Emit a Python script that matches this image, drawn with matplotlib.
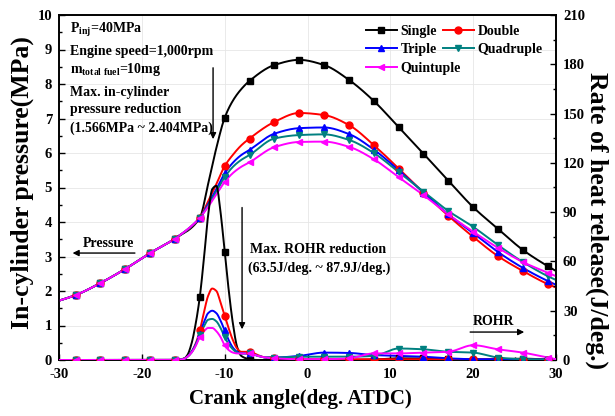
import numpy as np
import matplotlib
matplotlib.use("Agg")
import matplotlib.pyplot as plt
from matplotlib.lines import Line2D
from matplotlib.ticker import MultipleLocator

plt.rcParams['font.family'] = ['Liberation Serif', 'DejaVu Serif']
plt.rcParams['font.weight'] = 'bold'
plt.rcParams['mathtext.fontset'] = 'custom'
plt.rcParams['mathtext.rm'] = 'Liberation Serif:bold'
plt.rcParams['mathtext.it'] = 'Liberation Serif:italic:bold'
plt.rcParams['mathtext.bf'] = 'Liberation Serif:bold'
plt.rcParams['axes.unicode_minus'] = False

# ---------------- data ----------------
series_names = ["Single", "Double", "Triple", "Quadruple", "Quintuple"]
colors = ["#000000", "#FF0000", "#0000FF", "#008080", "#FF00FF"]
markers = ["s", "o", "^", "v", "<"]
marker_x = [-28, -25, -22, -19, -16, -13, -10, -7, -4, -1, 2, 5, 8, 11, 14, 17, 20, 23, 26, 29]

# in-cylinder pressure (MPa)
p_x = [-30, -28, -25, -22, -19, -16, -13, -12, -11, -10, -9, -8, -7, -4, -1, 2, 5, 8, 11, 14, 17, 20, 23, 26, 29, 30]
p_single = [1.72, 1.88, 2.23, 2.64, 3.10, 3.52, 4.12, 5.10, 6.15, 7.02, 7.52, 7.85, 8.09, 8.55, 8.70, 8.55, 8.12, 7.51, 6.75, 5.98, 5.20, 4.43, 3.80, 3.19, 2.72, 2.58]
p_double = [1.72, 1.88, 2.23, 2.64, 3.10, 3.52, 4.12, 4.60, 5.10, 5.62, 5.95, 6.22, 6.42, 6.90, 7.16, 7.10, 6.81, 6.23, 5.55, 4.85, 4.18, 3.57, 3.01, 2.58, 2.20, 2.10]
p_triple = [1.72, 1.88, 2.23, 2.64, 3.10, 3.52, 4.12, 4.52, 4.95, 5.41, 5.72, 5.94, 6.09, 6.56, 6.72, 6.74, 6.55, 6.10, 5.50, 4.85, 4.22, 3.68, 3.13, 2.67, 2.29, 2.18]
p_quad = [1.72, 1.88, 2.23, 2.64, 3.10, 3.52, 4.12, 4.48, 4.88, 5.30, 5.60, 5.80, 5.94, 6.42, 6.52, 6.54, 6.38, 6.00, 5.45, 4.88, 4.32, 3.86, 3.33, 2.84, 2.43, 2.32]
p_quint = [1.72, 1.88, 2.23, 2.64, 3.10, 3.52, 4.12, 4.44, 4.80, 5.16, 5.42, 5.60, 5.73, 6.17, 6.32, 6.33, 6.18, 5.82, 5.30, 4.78, 4.22, 3.72, 3.25, 2.84, 2.53, 2.43]

# rate of heat release (J/deg.)
r_x = [-30, -28, -25, -22, -19, -16, -15, -14.5, -14, -13.5, -13, -12.5, -12, -11.5, -11, -10.5, -10, -9.5, -9, -8.5, -8, -7, -6, -5, -4, -1, 2, 5, 8, 11, 14, 17, 20, 23, 26, 29, 30]
r_single = [0, 0, 0, 0, 0, 0, 0.5, 3, 10, 22, 38.5, 62, 88, 104, 106, 90, 66, 42, 22, 8, 2.5, 0.5, 0, 0, 0, 0, 0, 0, 0.3, 1, 1, 0.5, 0.3, 0.5, 0.8, 0.3, 0]
r_double = [0, 0, 0, 0, 0, 0, 0.5, 2, 5, 10, 18, 29, 39, 43.5, 42, 35, 27, 19, 12, 7, 5, 5, 3, 1.5, 1.5, 0.5, 0.5, 0.5, 0.5, 0.5, 0.5, 0.5, 0.5, 0.5, 0.3, 0.3, 0.3]
r_triple = [0, 0, 0, 0, 0, 0, 0.5, 2, 5, 9.5, 16, 23, 28.5, 30, 28.5, 24, 18, 12, 7.5, 5, 4, 4, 2.5, 1.5, 1.5, 2.5, 4.5, 4.3, 3, 2.5, 2, 1, 0.5, 0.5, 0.3, 0.3, 0.3]
r_quad = [0, 0, 0, 0, 0, 0, 0.5, 2, 4.5, 9, 15, 20.5, 24.5, 25, 23.5, 19.5, 14, 9.5, 6.5, 4.5, 4, 4, 2.5, 1.5, 1.5, 2, 2, 2, 2.5, 7, 6.5, 5, 4.5, 1.5, 0.5, 0.3, 0.3]
r_quint = [0, 0, 0, 0, 0, 0, 0.5, 2, 4.5, 8.5, 14, 17.5, 19.5, 19.5, 17.5, 14, 9, 6, 4.5, 4, 4, 4, 2.5, 1.5, 1, 0.5, 0.5, 1, 4, 4, 4.5, 5, 9, 6.5, 4.5, 1.5, 0.5]

pressures = [p_single, p_double, p_triple, p_quad, p_quint]
rohrs = [r_single, r_double, r_triple, r_quad, r_quint]


def pchip(x, y, xn):
    x = np.asarray(x, float); y = np.asarray(y, float)
    h = np.diff(x); d = np.diff(y) / h
    m = np.zeros_like(y)
    for k in range(1, len(x) - 1):
        if d[k - 1] * d[k] <= 0:
            m[k] = 0.0
        else:
            w1 = 2 * h[k] + h[k - 1]; w2 = h[k] + 2 * h[k - 1]
            m[k] = (w1 + w2) / (w1 / d[k - 1] + w2 / d[k])
    m[0] = d[0]; m[-1] = d[-1]
    idx = np.clip(np.searchsorted(x, xn) - 1, 0, len(x) - 2)
    t = (xn - x[idx]) / h[idx]
    h00 = 2 * t**3 - 3 * t**2 + 1; h10 = t**3 - 2 * t**2 + t
    h01 = -2 * t**3 + 3 * t**2; h11 = t**3 - t**2
    return h00 * y[idx] + h10 * h[idx] * m[idx] + h01 * y[idx + 1] + h11 * h[idx] * m[idx + 1]


fig = plt.figure(figsize=(6.15, 4.16), dpi=100)
ax = fig.add_axes([59 / 615, 56 / 416, 497 / 615, 345 / 416])
ax2 = ax.twinx()

xs = np.linspace(-30, 30, 1201)
lw = 1.4
ms = 5
for name, c, mk, p, r in zip(series_names, colors, markers, pressures, rohrs):
    ax.plot(xs, pchip(p_x, p, xs), color=c, lw=lw, zorder=3)
    pm = [v for xx, v in zip(p_x, p) if xx in marker_x]
    ax.plot(marker_x, pm, linestyle='none', marker=mk, color=c, ms=ms, zorder=4)
    ax2.plot(xs, pchip(r_x, r, xs), color=c, lw=lw, zorder=3)
    rm = [v for xx, v in zip(r_x, r) if xx in marker_x]
    ax2.plot(marker_x, rm, linestyle='none', marker=mk, color=c, ms=ms, zorder=4)

ax.set_xlim(-30, 30)
ax.set_ylim(0, 10)
ax2.set_ylim(0, 210)
ax.xaxis.set_major_locator(MultipleLocator(10))
ax.xaxis.set_minor_locator(MultipleLocator(5))
ax.yaxis.set_major_locator(MultipleLocator(1))
ax.yaxis.set_minor_locator(MultipleLocator(0.5))
ax2.yaxis.set_major_locator(MultipleLocator(30))
ax2.yaxis.set_minor_locator(MultipleLocator(15))
ax.grid(True, which='major', color='#e6e6e6', lw=0.6)
ax.set_axisbelow(True)
for a in (ax, ax2):
    a.tick_params(which='both', direction='in', labelsize=10.5)
    a.tick_params(which='major', length=4, width=1)
    a.tick_params(which='minor', length=2, width=1)
    for s in a.spines.values():
        s.set_linewidth(1.2)
ax.tick_params(axis='x', top=False, pad=6)
ax.tick_params(axis='y', right=False, pad=5)
ax2.tick_params(axis='y', pad=5)

ax.set_xlabel("Crank angle(deg. ATDC)", fontsize=15, fontweight='bold')
ax.xaxis.set_label_coords(0.485, -0.084)
ax.set_ylabel("In-cylinder pressure(MPa)", fontsize=18.5, fontweight='bold', va='center')
ax.yaxis.set_label_coords(-0.074, 0.513)
ax2.set_ylabel("Rate of heat release(J/deg.)", fontsize=18.5, fontweight='bold', rotation=270, va='center')
ax2.yaxis.set_label_coords(1.081, 0.405)

handles = [Line2D([], [], color=c, marker=mk, lw=lw, ms=ms) for c, mk in zip(colors, markers)]
legkw = dict(loc='upper left', frameon=False, fontsize=10, handlelength=2.2,
             handletextpad=0.3, labelspacing=0.38, borderpad=0, borderaxespad=0,
             bbox_transform=fig.transFigure)
leg1 = ax2.legend([handles[0], handles[2], handles[4]], [series_names[0], series_names[2], series_names[4]],
                  bbox_to_anchor=(366 / 615, (416 - 25) / 416), **legkw)
ax2.add_artist(leg1)
leg2 = ax2.legend([handles[1], handles[3]], [series_names[1], series_names[3]],
                  bbox_to_anchor=(443 / 615, (416 - 25) / 416), **legkw)

tf = dict(fontsize=10, fontweight='bold', transform=ax.transData, ha='left', va='center')
ax.text(-28.7, 9.57, r"P$_{\mathrm{inj}}$=40MPa", **tf)
ax.text(-28.7, 8.93, "Engine speed=1,000rpm", **tf)
ax.text(-28.7, 8.43, r"m$_{\mathrm{total\ fuel}}$=10mg", **tf)
ax.text(-28.7, 7.74, "Max. in-cylinder", **tf)
ax.text(-28.7, 7.25, "pressure reduction", **tf)
ax.text(-28.7, 6.72, "(1.566MPa ~ 2.404MPa)", **tf)
ax.annotate("", xy=(-11.4, 6.32), xytext=(-11.4, 8.55),
            arrowprops=dict(arrowstyle='-|>', color='black', lw=1, mutation_scale=9))

ax.text(-27.1, 3.39, "Pressure", **tf)
ax.annotate("", xy=(-28.7, 3.1), xytext=(-20.5, 3.1),
            arrowprops=dict(arrowstyle='-|>', color='black', lw=1, mutation_scale=9))

ax.text(-7.0, 3.19, "Max. ROHR reduction", **tf)
ax.text(-7.2, 2.67, "(63.5J/deg. ~ 87.9J/deg.)", **tf)
ax.annotate("", xy=(-7.9, 0.81), xytext=(-7.9, 4.5),
            arrowprops=dict(arrowstyle='-|>', color='black', lw=1, mutation_scale=9))

ax.text(20.0, 1.13, "ROHR", **tf)
ax.annotate("", xy=(26.5, 0.81), xytext=(19.3, 0.81),
            arrowprops=dict(arrowstyle='-|>', color='black', lw=1, mutation_scale=9))

fig.savefig("out.png", dpi=100)
